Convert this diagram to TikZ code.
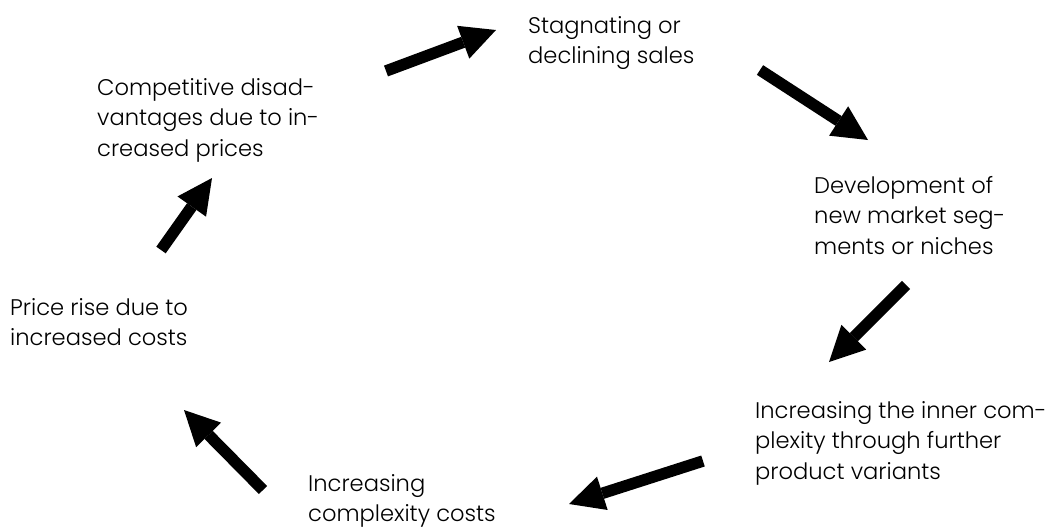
\documentclass[tikz,border=0pt]{standalone}
\usepackage{fontspec}
\setmainfont{Poppins}[UprightFont=* Light]
\usetikzlibrary{arrows.meta}

\begin{document}
\begin{tikzpicture}[x=1pt,y=-1pt,
  label text/.style={anchor=north west,inner sep=0pt,align=left,
    font=\fontsize{22.6}{30.5}\selectfont},
  flow/.style={line width=11.5pt,
    -{Triangle[length=35pt,width=35pt,line width=0pt]}}]
  \useasboundingbox (0,0) rectangle (1055,528);

  % cycle stages (first baseline sits 21.35pt below the node top)
  \node[label text] (sales)   at (528,11.6)  {\strut Stagnating or\\declining sales};
  \node[label text] (niches)  at (814,171.6) {\strut Development of\\new market seg-\\ments or niches};
  \node[label text] (inner)   at (755,396.6) {\strut Increasing the inner com-\\plexity through further\\product variants};
  \node[label text] (costs)   at (308,469.6) {\strut Increasing\\complexity costs};
  \node[label text] (price)   at (10,293.6)  {\strut Price rise due to\\increased costs};
  \node[label text] (compet)  at (97,73.6)   {\strut Competitive disad-\\vantages due to in-\\creased prices};

  % arrow ends
  \coordinate (a1s) at (386,71);  \coordinate (a1e) at (496,30);
  \coordinate (a2s) at (760,70);  \coordinate (a2e) at (868,140);
  \coordinate (a3s) at (906,285); \coordinate (a3e) at (829,362);
  \coordinate (a4s) at (703,461); \coordinate (a4e) at (569,504);
  \coordinate (a5s) at (263,490); \coordinate (a5e) at (184,410);
  \coordinate (a6s) at (161,250); \coordinate (a6e) at (212,178);

  \draw[flow] (a1s) -- (a1e);
  \draw[flow] (a2s) -- (a2e);
  \draw[flow] (a3s) -- (a3e);
  \draw[flow] (a4s) -- (a4e);
  \draw[flow] (a5s) -- (a5e);
  \draw[flow] (a6s) -- (a6e);
\end{tikzpicture}
\end{document}
